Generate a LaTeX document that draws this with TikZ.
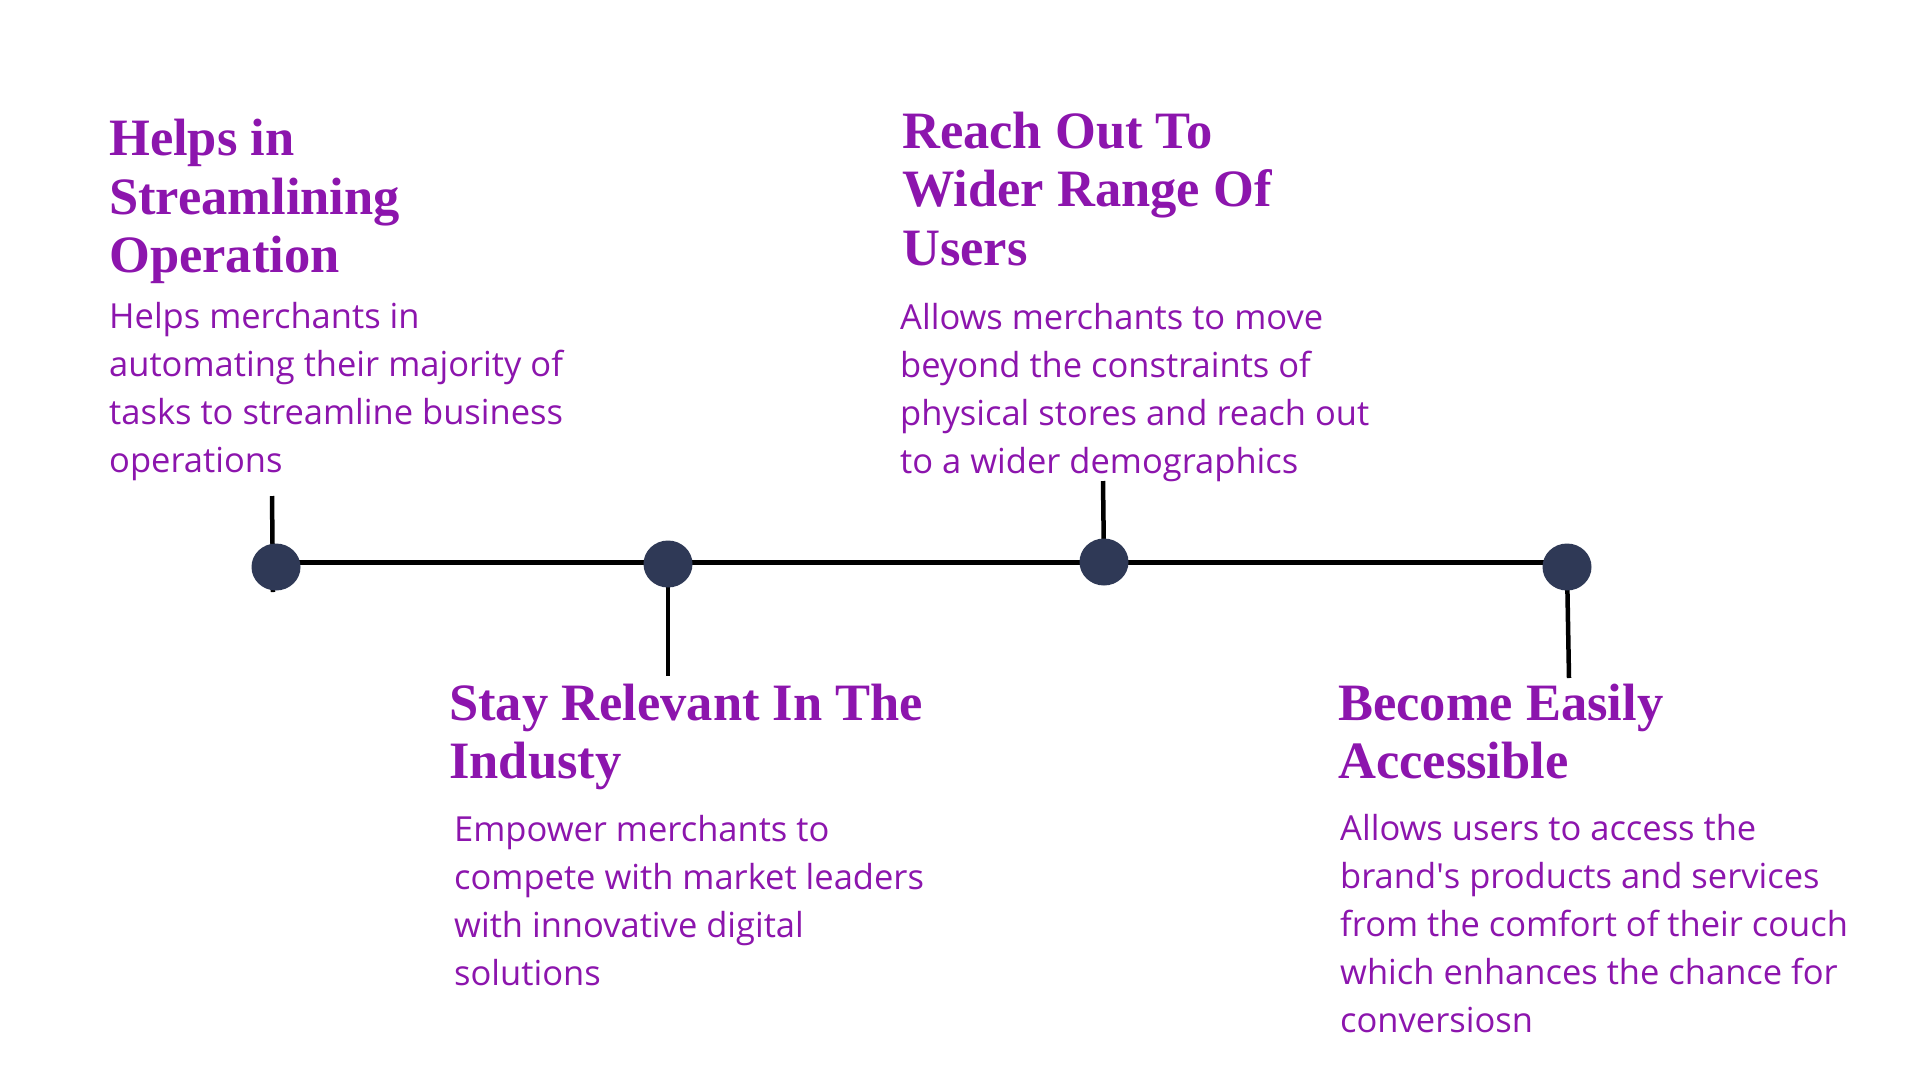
\documentclass[tikz,border=0pt]{standalone}
\usepackage{fontspec}
\setmainfont{Open Sans}
\newfontfamily\titlefont{Liberation Serif}
\usetikzlibrary{backgrounds,shapes.geometric}
\definecolor{tpurple}{RGB}{140,21,173}
\definecolor{dotblue}{RGB}{47,57,86}
\begin{document}
\begin{tikzpicture}[x=1pt,y=-1pt,
  dotnode/.style={ellipse,fill=dotblue,draw=none,inner sep=0pt,minimum width=49pt,minimum height=47pt},
  title/.style={anchor=base west,inner sep=0pt,text=tpurple,font=\titlefont\bfseries\fontsize{52.5}{58.5}\selectfont},
  body/.style={anchor=base west,inner sep=0pt,text=tpurple,font=\fontsize{34.5}{48}\selectfont},
  link/.style={line width=5pt,black},
  tick/.style={line width=4.5pt,black}]
\useasboundingbox (0,0) rectangle (1920,1080);

% dots
\node[dotnode] (d1) at (276,567) {};
\node[dotnode] (d2) at (668,564) {};
\node[dotnode] (d3) at (1104,562) {};
\node[dotnode] (d4) at (1567,567) {};

% tick ends
\coordinate (k1a) at (272,496);
\coordinate (k1b) at (273,592);
\coordinate (k2) at (668,676);
\coordinate (k3) at (1103,481);
\coordinate (k4) at (1569,678);

\begin{pgfonlayer}{background}
  \fill[white] (0,0) rectangle (1920,1080);
  \draw[link] (d1.center |- d3.center) -- (d2.center |- d3.center) -- (d3.center) -- (d4.center |- d3.center);
  \draw[tick] (k1a) -- (k1b);
  \draw[tick] (d2.center) -- (k2);
  \draw[tick] (k3) -- (d3.center);
  \draw[tick] (d4.center) -- (k4);
\end{pgfonlayer}

% texts
\node[title] (t1) at (109,155.5) {\parbox[t]{700pt}{Helps in\\Streamlining\\Operation}};
\node[body] (b1) at (109,328) {\parbox[t]{700pt}{Helps merchants in\\automating their majority of\\tasks to streamline business\\operations}};

\node[title] (t2) at (449,720) {\parbox[t]{700pt}{Stay Relevant In The\\Industy}};
\node[body] (b2) at (454,841) {\parbox[t]{700pt}{Empower merchants to\\compete with market leaders\\with innovative digital\\solutions}};

\node[title] (t3) at (902,148) {\parbox[t]{700pt}{Reach Out To\\Wider Range Of\\Users}};
\node[body] (b3) at (900,329) {\parbox[t]{700pt}{Allows merchants to move\\beyond the constraints of\\physical stores and reach out\\to a wider demographics}};

\node[title] (t4) at (1338,720) {\parbox[t]{700pt}{Become Easily\\Accessible}};
\node[body] (b4) at (1340,840) {\parbox[t]{700pt}{Allows users to access the\\brand\textquotesingle s products and services\\from the comfort of their couch\\which enhances the chance for\\conversiosn}};
\end{tikzpicture}
\end{document}
